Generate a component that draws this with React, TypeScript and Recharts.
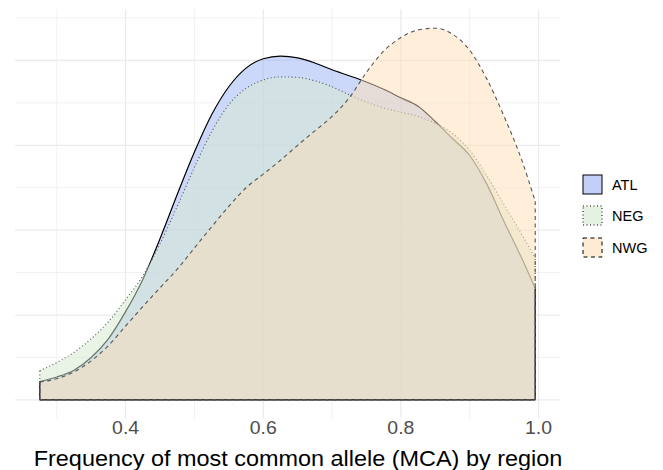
import {
  Area,
  CartesianGrid,
  ComposedChart,
  ReferenceLine,
  XAxis,
  YAxis,
} from "recharts";

// MCA frequency grid (x) and density estimates per region
const mcaFreq = [
  0.2753, 0.3, 0.325, 0.35, 0.375, 0.4, 0.425, 0.45, 0.475, 0.5, 0.525, 0.55, 0.575, 0.6,
  0.625, 0.65, 0.675, 0.7, 0.725, 0.75, 0.775, 0.8, 0.825, 0.85, 0.875, 0.9, 0.925, 0.95,
  0.975, 0.9952,
];
const atlDensity = [
  0.108, 0.135, 0.175, 0.25, 0.36, 0.52, 0.71, 0.95, 1.21, 1.46, 1.68, 1.845, 1.955, 2.01,
  2.025, 2.015, 1.985, 1.945, 1.91, 1.873, 1.83, 1.78, 1.73, 1.64, 1.54, 1.44, 1.27, 1.05,
  0.84, 0.657,
];
const negDensity = [
  0.172, 0.22, 0.28, 0.36, 0.46, 0.59, 0.73, 0.92, 1.14, 1.37, 1.58, 1.74, 1.835, 1.885,
  1.903, 1.9, 1.88, 1.845, 1.797, 1.755, 1.72, 1.695, 1.67, 1.63, 1.57, 1.47, 1.32, 1.15,
  0.98, 0.835,
];
const nwgDensity = [
  0.105, 0.125, 0.165, 0.23, 0.32, 0.435, 0.55, 0.66, 0.77, 0.895, 1.02, 1.14, 1.25, 1.33,
  1.412, 1.5, 1.585, 1.67, 1.78, 1.93, 2.055, 2.135, 2.18, 2.19, 2.155, 2.06, 1.89, 1.67,
  1.42, 1.17,
];
const xTicks = [0.4, 0.6, 0.8, 1.0];
const xMinor = [0.3, 0.5, 0.7, 0.9];
const yMajor = [0, 0.5, 1, 1.5, 2];
const yMinor = [0.25, 0.75, 1.25, 1.75, 2.25];
const xTitle = "Frequency of most common allele (MCA) by region";

const data = mcaFreq.map((x, i) => ({
  x,
  ATL: atlDensity[i],
  NEG: negDensity[i],
  NWG: nwgDensity[i],
}));

const series = [
  { key: "ATL", fill: "#99B1F5", stroke: "#000000", dash: undefined, width: 1.2 },
  { key: "NEG", fill: "#D5E9CD", stroke: "#555555", dash: "1 2.5", width: 1.1 },
  { key: "NWG", fill: "#FDDEB6", stroke: "#555555", dash: "4 3.5", width: 1.1 },
];

const FONT = "'Liberation Sans', Arial, Helvetica, sans-serif";
const GRID = "#EBEBEB";

// the source picture is slightly wider than tall, so text is stretched a bit
function stretch(cx: number, k: number) {
  return `translate(${cx},0) scale(${k},1) translate(${-cx},0)`;
}

function XTick(props: any) {
  const { x, y, payload } = props;
  return (
    <text
      x={x}
      y={y}
      dy="0.71em"
      textAnchor="middle"
      fill="#4D4D4D"
      fontSize={18}
      fontFamily={FONT}
      transform={stretch(x, 1.08)}
    >
      {Number(payload.value).toFixed(1)}
    </text>
  );
}

function XTitle(props: any) {
  const vb = props.viewBox;
  const cx = vb.x + vb.width / 2 + 10.5;
  const y = vb.y + vb.height + 7;
  return (
    <text
      x={cx}
      y={y}
      dy="0.71em"
      textAnchor="middle"
      fill="#000"
      fontSize={22}
      fontFamily={FONT}
      transform={stretch(cx, 1.065)}
    >
      {xTitle}
    </text>
  );
}

function LegendBoxes() {
  return (
    <div
      style={{
        position: "absolute",
        left: 582,
        top: 169.5,
        fontFamily: FONT,
        fontSize: 14.5,
        color: "#000",
      }}
    >
      {series.map((s) => (
        <div key={s.key} style={{ display: "flex", alignItems: "center", height: 31.3 }}>
          <svg width={22} height={22} style={{ marginRight: 8 }}>
            <rect
              x={1}
              y={1}
              width={19}
              height={19}
              fill={s.fill}
              fillOpacity={0.6}
              stroke="#000"
              strokeWidth={1}
              strokeDasharray={s.dash}
            />
          </svg>
          <span>{s.key}</span>
        </div>
      ))}
    </div>
  );
}

export default function App() {
  const x0 = mcaFreq[0];
  const x1 = mcaFreq[mcaFreq.length - 1];
  return (
    <div style={{ position: "absolute", left: 0, top: 0, width: 663, height: 470, background: "#fff" }}>
      <ComposedChart
        width={663}
        height={470}
        data={data}
        margin={{ top: 9.3, right: 103, bottom: 26.5, left: 15 }}
      >
        <CartesianGrid
          stroke={GRID}
          strokeWidth={0.7}
          horizontalValues={yMinor}
          verticalValues={xMinor}
        />
        <CartesianGrid
          stroke={GRID}
          strokeWidth={1.3}
          horizontalValues={yMajor}
          verticalValues={xTicks}
        />
        <XAxis
          dataKey="x"
          type="number"
          domain={[0.2393, 1.0312]}
          ticks={xTicks}
          axisLine={false}
          tickLine={false}
          tickSize={0}
          tickMargin={3}
          height={25}
          allowDataOverflow
          tick={<XTick />}
          label={{ content: <XTitle /> }}
        />
        <YAxis hide type="number" domain={[-0.1096, 2.3014]} allowDataOverflow />
        {series.map((s) => (
          <Area
            key={s.key}
            dataKey={s.key}
            type="monotone"
            baseValue={0}
            fill={s.fill}
            fillOpacity={0.5}
            stroke={s.stroke}
            strokeWidth={s.width}
            strokeDasharray={s.dash}
            isAnimationActive={false}
            dot={false}
            activeDot={false}
          />
        ))}
        {series.map((s) => {
          const first = data[0][s.key as "ATL"];
          const last = data[data.length - 1][s.key as "ATL"];
          return [
            <ReferenceLine
              key={s.key + "-l"}
              segment={[{ x: x0, y: 0 }, { x: x0, y: first }]}
              stroke={s.stroke}
              strokeWidth={s.width}
              strokeDasharray={s.dash}
            />,
            <ReferenceLine
              key={s.key + "-r"}
              segment={[{ x: x1, y: 0 }, { x: x1, y: last }]}
              stroke={s.stroke}
              strokeWidth={s.width}
              strokeDasharray={s.dash}
            />,
            <ReferenceLine
              key={s.key + "-b"}
              segment={[{ x: x0, y: 0 }, { x: x1, y: 0 }]}
              stroke={s.stroke}
              strokeWidth={s.width}
              strokeDasharray={s.dash}
            />,
          ];
        })}
      </ComposedChart>
      <LegendBoxes />
    </div>
  );
}
